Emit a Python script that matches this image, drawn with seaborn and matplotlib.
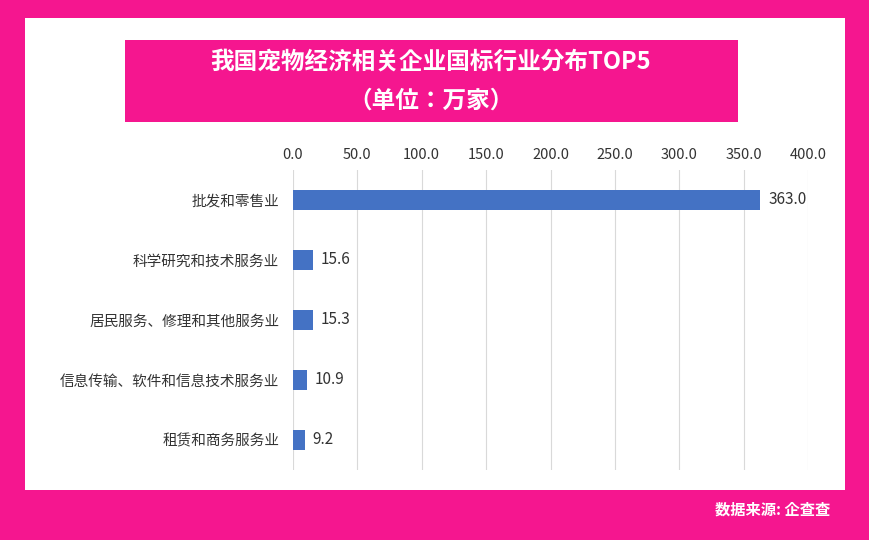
import matplotlib
matplotlib.use("Agg")
import matplotlib.pyplot as plt
import seaborn as sns
import pandas as pd
from matplotlib.patches import Rectangle

categories = ["批发和零售业", "科学研究和技术服务业", "居民服务、修理和其他服务业", "信息传输、软件和信息技术服务业", "租赁和商务服务业"]
values = [363.0, 15.6, 15.3, 10.9, 9.2]
ticks = [0, 50, 100, 150, 200, 250, 300, 350, 400]

plt.rcParams["font.family"] = ["Noto Sans CJK SC", "Noto Sans CJK JP", "Noto Sans CJK TC", "DejaVu Sans"]
pink = "#F5168F"
fig = plt.figure(figsize=(8.69, 5.4), dpi=100, facecolor=pink)
bg = fig.add_axes([0, 0, 1, 1], zorder=-1)
bg.set_xlim(0, 869); bg.set_ylim(540, 0); bg.axis("off")
bg.add_patch(Rectangle((25, 18), 820, 472, facecolor="white", edgecolor="none"))
bg.add_patch(Rectangle((125, 40), 613, 82, facecolor=pink, edgecolor="none"))
bg.text(431, 62, "我国宠物经济相关企业国标行业分布TOP5", ha="center", va="center", color="white", fontsize=17, fontweight="bold")
bg.text(431, 101, "（单位：万家）", ha="center", va="center", color="white", fontsize=17, fontweight="bold")
bg.text(830, 510, "数据来源: 企查查", ha="right", va="center", color="white", fontsize=11, fontweight="bold")

ax = fig.add_axes([293/869, 1-470/540, 515/869, 300/540], zorder=1)
ax.set_facecolor("none")
df = pd.DataFrame({"cat": categories, "val": values})
sns.barplot(data=df, x="val", y="cat", color="#4472C4", width=0.33, ax=ax, saturation=1)
ax.set_xlim(0, 400)
ax.set_xticks(ticks)
ax.set_xticklabels([f"{t:.1f}" for t in ticks], fontsize=10.5, color="#333333")
ax.xaxis.tick_top()
ax.tick_params(axis="x", length=0, pad=6)
ax.tick_params(axis="y", length=0, pad=10, labelsize=10.5, labelcolor="#333333")
ax.set_xlabel(""); ax.set_ylabel("")
ax.grid(axis="x", color="#D9D9D9", linewidth=0.8)
ax.set_axisbelow(True)
for s in ax.spines.values():
    s.set_visible(False)
for i, v in enumerate(values):
    ax.text(v + 6, i, f"{v:.1f}", va="center", ha="left", fontsize=11, color="#333333")
fig.savefig("out.png", dpi=100, facecolor=pink)
